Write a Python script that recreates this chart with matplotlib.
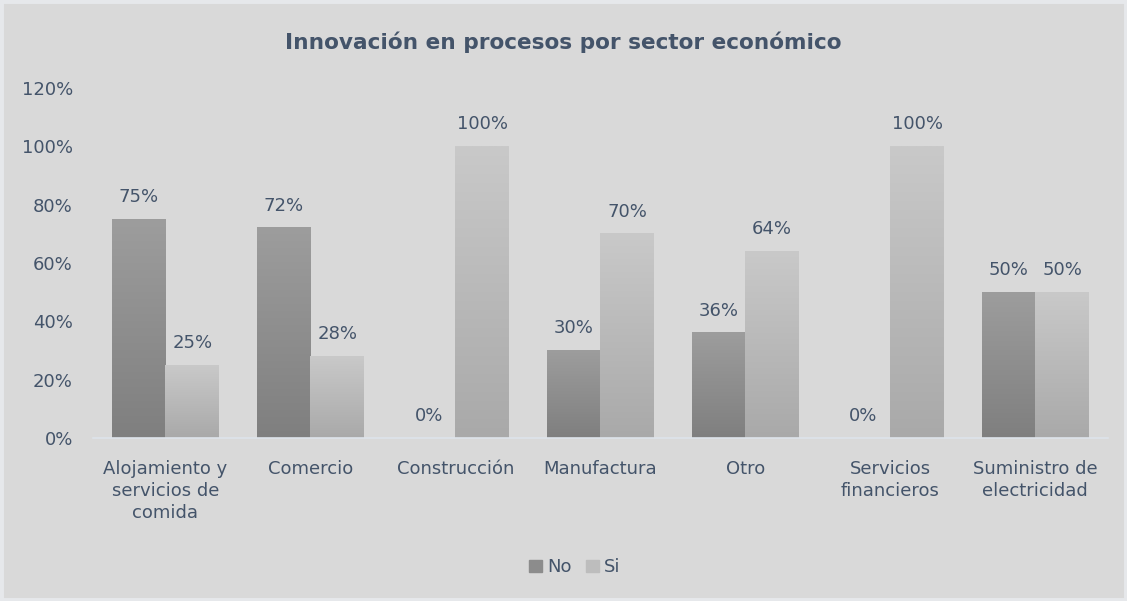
import matplotlib
matplotlib.use("Agg")
import matplotlib.pyplot as plt
import numpy as np
from matplotlib.patches import Rectangle

# data
categories = ["Alojamiento y\nservicios de\ncomida", "Comercio", "Construcción",
              "Manufactura", "Otro", "Servicios\nfinancieros",
              "Suministro de\nelectricidad"]
no_vals = [0.75, 0.72, 0.0, 0.30, 0.36, 0.0, 0.50]
si_vals = [0.25, 0.28, 1.00, 0.70, 0.64, 1.00, 0.50]
yticks = [0, 0.2, 0.4, 0.6, 0.8, 1.0, 1.2]

TEXT = "#44546a"
BG = "#d9d9d9"
plt.rcParams["font.family"] = ["DejaVu Sans"]

fig = plt.figure(figsize=(11.27, 6.01), dpi=100)
fig.patch.set_facecolor(BG)
fig.patches.append(Rectangle((0, 0), 1, 1, transform=fig.transFigure,
                             fill=False, edgecolor="#e6e8eb", linewidth=5))
ax = fig.add_axes([0.0825, 0.2712, 0.9005, 0.5824])
ax.set_facecolor(BG)

x = np.arange(len(categories))
w = 0.37
bars_no = ax.bar(x - w / 2, no_vals, w, color="none", label="No")
bars_si = ax.bar(x + w / 2, si_vals, w, color="none", label="Si")


def paint(bars, top, bottom):
    # vertical gradient fill per bar, like the Excel original
    grad = np.linspace(0, 1, 256).reshape(-1, 1)
    c0 = np.array(matplotlib.colors.to_rgb(top))
    c1 = np.array(matplotlib.colors.to_rgb(bottom))
    img = c0 + (c1 - c0) * grad[:, :, None]
    for b in bars:
        h = b.get_height()
        if h <= 0:
            continue
        x0 = b.get_x()
        ax.imshow(img, extent=[x0, x0 + b.get_width(), 0, h], aspect="auto",
                  origin="upper", zorder=2, interpolation="bilinear")


paint(bars_no, "#9d9d9d", "#7f7f7f")
paint(bars_si, "#c9c9c9", "#a9a9a9")

for bars, vals in ((bars_no, no_vals), (bars_si, si_vals)):
    for b, v in zip(bars, vals):
        ax.text(b.get_x() + b.get_width() / 2, v + 0.045, f"{v * 100:.0f}%",
                ha="center", va="bottom", fontsize=13, color=TEXT)

ax.set_xlim(-0.5, len(categories) - 0.5)
ax.set_ylim(0, 1.2)
ax.set_yticks(yticks)
ax.set_yticklabels([f"{t * 100:.0f}%" for t in yticks], fontsize=13, color=TEXT)
ax.set_xticks(x)
ax.set_xticklabels(categories, fontsize=13, color=TEXT, linespacing=1.3)
ax.tick_params(axis="both", length=0)
ax.tick_params(axis="x", pad=15.5)
ax.tick_params(axis="y", pad=14.5)
for s in ("top", "right", "left"):
    ax.spines[s].set_visible(False)
ax.spines["bottom"].set_color("#dde3ea")
ax.spines["bottom"].set_linewidth(1.2)

fig.text(0.5, 0.93, "Innovación en procesos por sector económico", ha="center",
         va="center", fontsize=15.6, fontweight="bold", color=TEXT)

handles = [Rectangle((0, 0), 1, 1, color="#8c8c8c"),
           Rectangle((0, 0), 1, 1, color="#bdbdbd")]
fig.legend(handles, ["No", "Si"], loc="center", bbox_to_anchor=(0.51, 0.056),
           ncol=2, frameon=False, fontsize=13, labelcolor=TEXT,
           handlelength=0.7, handleheight=0.7, handletextpad=0.3,
           columnspacing=0.8)

fig.savefig("out.png", facecolor=fig.get_facecolor())
